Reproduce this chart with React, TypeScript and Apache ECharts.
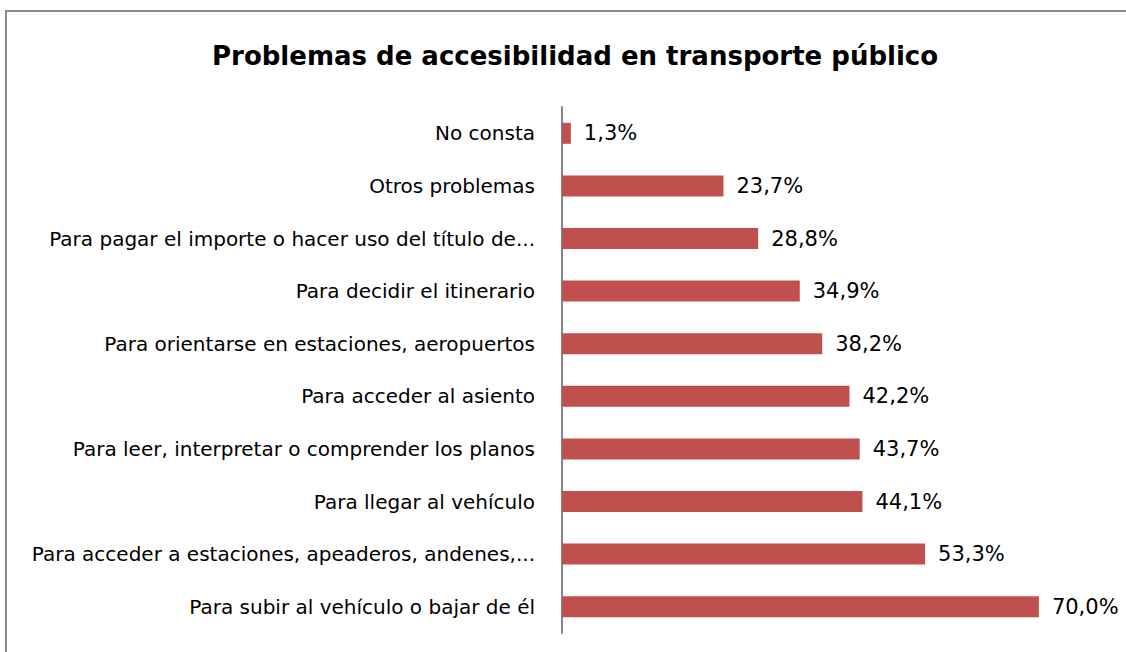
import React, { useEffect, useRef } from "react";
import * as echarts from "echarts";

const titleText = "Problemas de accesibilidad en transporte público";

// bottom to top
const categories = [
  "Para subir al vehículo o bajar de él",
  "Para acceder a estaciones, apeaderos, andenes,...",
  "Para llegar al vehículo",
  "Para leer, interpretar o comprender los planos",
  "Para acceder al asiento",
  "Para orientarse en estaciones, aeropuertos",
  "Para decidir el itinerario",
  "Para pagar el importe o hacer uso del título de...",
  "Otros problemas",
  "No consta",
];

const values = [70.0, 53.3, 44.1, 43.7, 42.2, 38.2, 34.9, 28.8, 23.7, 1.3];

const FONT = "DejaVu Sans";

export default function App() {
  const ref = useRef<HTMLDivElement>(null);
  useEffect(() => {
    if (!ref.current) return;
    const chart = echarts.init(ref.current, null, { renderer: "svg" });
    chart.setOption({
      animation: false,
      backgroundColor: "#ffffff",
      title: {
        text: titleText,
        left: 207,
        top: 38,
        textStyle: {
          fontFamily: FONT,
          fontSize: 26,
          fontWeight: "bold",
          color: "#000000",
        },
      },
      graphic: [
        {
          type: "rect",
          shape: { x: 6, y: 11, width: 1200, height: 700 },
          style: { fill: "none", stroke: "#8a8a8a", lineWidth: 2 },
          silent: true,
        },
      ],
      grid: { left: 562, top: 107, width: 545, height: 526 },
      xAxis: {
        type: "value",
        min: 0,
        max: 80,
        show: false,
      },
      yAxis: {
        type: "category",
        data: categories,
        axisLine: { show: true, lineStyle: { color: "#868686", width: 2 } },
        axisTick: { show: false },
        axisLabel: {
          fontFamily: FONT,
          fontSize: 20,
          color: "#000000",
          margin: 27,
        },
      },
      series: [
        {
          type: "bar",
          data: values,
          barWidth: 21,
          itemStyle: { color: "#C0504D" },
          label: {
            show: true,
            position: "right",
            distance: 13,
            fontFamily: FONT,
            fontSize: 21,
            color: "#000000",
            formatter: (p: any) => p.value.toFixed(1).replace(".", ",") + "%",
          },
        },
      ],
    });
    return () => chart.dispose();
  }, []);
  return (
    <div
      ref={ref}
      style={{ position: "absolute", left: 0, top: 0, width: 1126, height: 652 }}
    />
  );
}
